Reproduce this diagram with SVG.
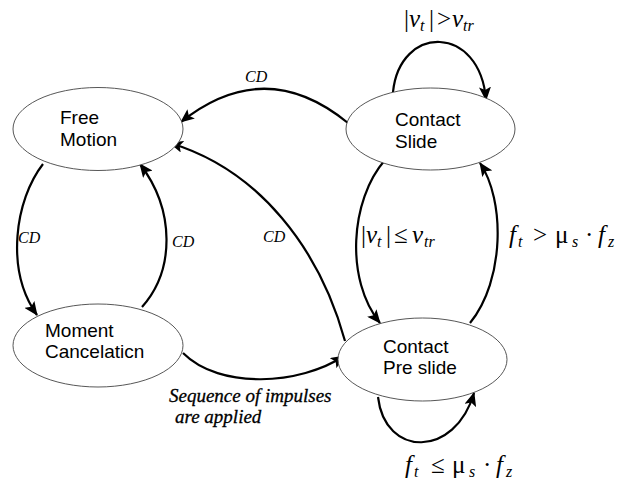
<svg xmlns="http://www.w3.org/2000/svg" width="624" height="486" viewBox="0 0 624 486">
<style>
.node{fill:#fff;stroke:#444;stroke-width:0.9}
.nt{font-family:"Liberation Sans",Arial,sans-serif;font-size:19px;fill:#000}
.edge{fill:none;stroke:#000;stroke-width:2.2}
.cd{font-family:"Liberation Serif","Times New Roman",serif;font-style:italic;font-size:16px;fill:#000}
.seq{font-family:"Liberation Serif","Times New Roman",serif;font-style:italic;font-size:19px;fill:#000;stroke:#000;stroke-width:0.3}
.m{font-family:"Liberation Serif","Times New Roman",serif;font-size:25px;fill:#000}
.i{font-style:italic}
.sub{font-size:16px;font-style:italic}
</style>
<defs>
<marker id="arr" markerWidth="14" markerHeight="12" refX="13" refY="6" orient="auto" markerUnits="userSpaceOnUse">
<path d="M0,0 L14,6 L0,12 L3,6 Z" fill="#000"/>
</marker>
</defs>
<rect width="624" height="486" fill="#fff"/>
<g id="connectors">
<path class="edge" marker-end="url(#arr)" d="M348,123 Q265,55 181,122"/>
<path class="edge" marker-end="url(#arr)" d="M345,341 C320,250 260,170 170,143"/>
<path class="edge" marker-end="url(#arr)" d="M43,164 C15,200 5,270 37,315"/>
<path class="edge" marker-end="url(#arr)" d="M142,307 C175,270 175,210 140,164"/>
<path class="edge" marker-end="url(#arr)" d="M183,353 C220,390 300,385 344,356"/>
<path class="edge" marker-end="url(#arr)" d="M385,160 C350,200 345,280 380,323"/>
<path class="edge" marker-end="url(#arr)" d="M470,323 C505,280 505,200 480,163"/>
<path class="edge" marker-end="url(#arr)" d="M393,92 C400,24 480,24 486,100"/>
<path class="edge" marker-end="url(#arr)" d="M378,397 C385,458 455,458 474,393"/>
<text class="cd" x="245" y="82">CD</text>
<text class="cd" x="263" y="242">CD</text>
<text class="cd" x="18" y="243">CD</text>
<text class="cd" x="172" y="247">CD</text>
<text class="seq" x="169" y="402">Sequence of impulses</text>
<text class="seq" x="175" y="423">are applied</text>
<text class="m" y="27"><tspan x="404">|</tspan><tspan class="i" x="409">v</tspan><tspan class="sub" x="420" y="31">t</tspan><tspan x="429" y="27">|</tspan><tspan x="437">&gt;</tspan><tspan class="i" x="452">v</tspan><tspan class="sub" x="463" y="31">tr</tspan></text>
<text class="m" y="243"><tspan x="361">|</tspan><tspan class="i" x="366">v</tspan><tspan class="sub" x="377" y="247">t</tspan><tspan x="386" y="243">|</tspan><tspan x="394">≤</tspan><tspan class="i" x="412">v</tspan><tspan class="sub" x="424" y="247">tr</tspan></text>
<text class="m" y="243"><tspan class="i" x="509">f</tspan><tspan class="sub" x="518" y="247">t</tspan><tspan x="533" y="243">&gt;</tspan><tspan x="555">μ</tspan><tspan class="sub" x="572" y="247">s</tspan><tspan x="585" y="243">·</tspan><tspan class="i" x="598">f</tspan><tspan class="sub" x="608" y="247">z</tspan></text>
<text class="m" y="473"><tspan class="i" x="405">f</tspan><tspan class="sub" x="414" y="477">t</tspan><tspan x="431" y="473">≤</tspan><tspan x="452">μ</tspan><tspan class="sub" x="469" y="477">s</tspan><tspan x="483" y="473">·</tspan><tspan class="i" x="496">f</tspan><tspan class="sub" x="506" y="477">z</tspan></text>
</g>
<g id="free-motion">
<ellipse class="node" cx="98" cy="129" rx="85" ry="41.5"/>
<text class="nt" x="60" y="124">Free</text>
<text class="nt" x="60" y="146">Motion</text>
</g>
<g id="contact-slide">
<ellipse class="node" cx="430.5" cy="129" rx="84.5" ry="41"/>
<text class="nt" x="395" y="126">Contact</text>
<text class="nt" x="395" y="148">Slide</text>
</g>
<g id="moment-cancelation">
<ellipse class="node" cx="98" cy="345.5" rx="85" ry="41.5"/>
<text class="nt" x="45" y="337">Moment</text>
<text class="nt" x="45" y="358">Cancelaticn</text>
</g>
<g id="contact-pre-slide">
<ellipse class="node" cx="422.5" cy="359.5" rx="84.5" ry="41.5"/>
<text class="nt" x="383" y="353">Contact</text>
<text class="nt" x="383" y="374">Pre slide</text>
</g>
</svg>
